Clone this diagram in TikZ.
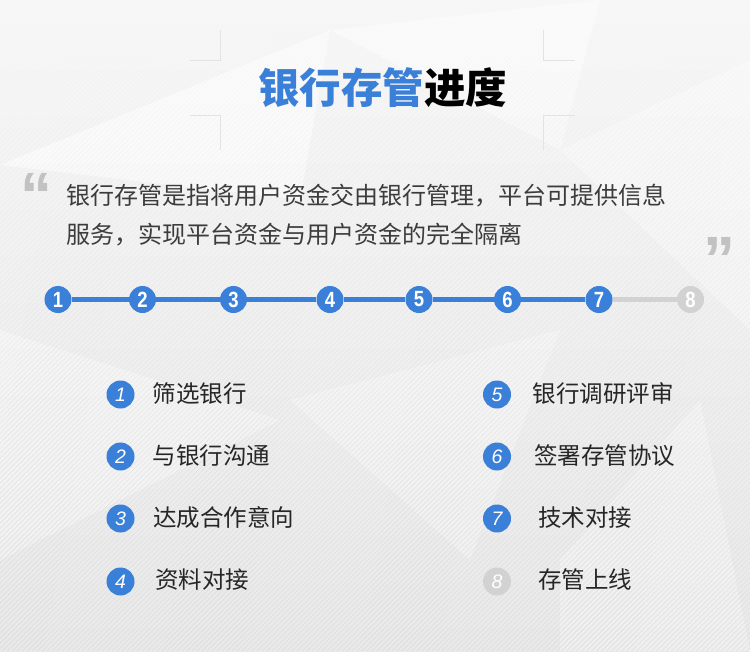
\documentclass[tikz,border=0pt]{standalone}
\usepackage{fontspec}
\usetikzlibrary{fadings}
\newfontfamily\cjk{Noto Sans CJK SC}
\newfontfamily\arial{Liberation Sans}
\newfontfamily\arialn[FakeStretch=0.84]{Liberation Sans}
\definecolor{mblue}{HTML}{3A80D9}
\definecolor{mgray}{HTML}{D2D2D2}
\definecolor{txt}{HTML}{262626}
\definecolor{qgray}{HTML}{C2C2C2}
\definecolor{bgtop}{HTML}{F7F7F7}
\definecolor{bgbot}{HTML}{E9E9E9}
\definecolor{hatch}{HTML}{D8D8D8}
\definecolor{corner}{HTML}{E3E3E3}
\tikzfading[name=hatchfade, top color=transparent!100, bottom color=transparent!25]
\tikzset{
  pc/.style={circle,fill=mblue,minimum size=27pt,inner sep=0pt,text=white,font=\arialn\bfseries\fontsize{22}{22}\selectfont},
  pcoff/.style={pc,fill=mgray},
  lc/.style={circle,fill=mblue,minimum size=28pt,inner sep=0pt,text=white,font=\arial\itshape\fontsize{19.5}{19.5}\selectfont},
  lcoff/.style={lc,fill=mgray},
  bline/.style={draw=mblue,line width=4.5pt},
  gline/.style={draw=mgray,line width=4.5pt},
  item/.style={anchor=west,inner sep=0pt,text=txt,font=\cjk\fontsize{23.5}{23.5}\selectfont},
  para/.style={anchor=west,inner sep=0pt,text=txt!90,font=\cjk\fontsize{24}{24}\selectfont},
  quote/.style={inner sep=0pt,text=qgray,font=\arial\bfseries\fontsize{64}{64}\selectfont},
  cornerline/.style={draw=corner,line width=1pt}
}
\begin{document}
\begin{tikzpicture}[x=1pt,y=-1pt]
\useasboundingbox (0,0) rectangle (750,651);
% background
\shade[top color=bgtop,bottom color=bgbot] (0,0) rectangle (750,651);
\fill[white,opacity=0.55] (0,165) -- (330,30) -- (300,200) -- cycle;
\fill[white,opacity=0.45] (330,30) -- (600,0) -- (560,150) -- cycle;
\fill[white,opacity=0.35] (560,150) -- (750,60) -- (750,330) -- cycle;
\fill[white,opacity=0.35] (0,330) -- (280,420) -- (0,560) -- cycle;
\fill[white,opacity=0.3] (290,400) -- (560,330) -- (470,560) -- cycle;
\fill[white,opacity=0.3] (560,560) -- (700,400) -- (750,651) -- (560,651) -- cycle;
\begin{scope}
\clip (0,0) rectangle (750,651);
\draw[hatch,line width=0.6pt,path fading=hatchfade,fit fading=true]
  \foreach \i in {-660,-655,...,760} { (\i,651) -- (\i+651,0) };
\end{scope}
% corner marks
\draw[cornerline] (190,60) -- (220,60) -- (220,30);
\draw[cornerline] (190,115) -- (220,115) -- (220,150);
\draw[cornerline] (575,60) -- (543,60) -- (543,30);
\draw[cornerline] (575,115) -- (543,115) -- (543,150);
% title
\node[inner sep=0pt,font=\cjk\bfseries\fontsize{41.5}{41.5}\selectfont,text=black] (title) at (382.5,88) {\textcolor{mblue}{银行存管}进度};
% quotes
\node[quote,anchor=north west] (q1) at (20,173) {“};
\node[quote,anchor=north west] (q2) at (703,237) {”};
% paragraph
\node[para] (l1) at (66,196) {银行存管是指将用户资金交由银行管理，平台可提供信息};
\node[para] (l2) at (66,235) {服务，实现平台资金与用户资金的完全隔离};
% progress bar
\node[pc] (p1) at (58,299.5) {1};
\node[pc] (p2) at (142.5,299.5) {2};
\node[pc] (p3) at (233.5,299.5) {3};
\node[pc] (p4) at (330,299.5) {4};
\node[pc] (p5) at (419,299.5) {5};
\node[pc] (p6) at (507.5,299.5) {6};
\node[pc] (p7) at (599,299.5) {7};
\node[pcoff] (p8) at (690.5,299.5) {8};
\draw[bline] (p1) -- (p2);
\draw[bline] (p2) -- (p3);
\draw[bline] (p3) -- (p4);
\draw[bline] (p4) -- (p5);
\draw[bline] (p5) -- (p6);
\draw[bline] (p6) -- (p7);
\draw[gline] (p7) -- (p8);
% list left
\node[lc] (c1) at (120.5,394.5) {1};
\node[item] (t1) at (152.5,394) {筛选银行};
\node[lc] (c2) at (120.5,456.5) {2};
\node[item] (t2) at (152.5,456) {与银行沟通};
\node[lc] (c3) at (120.5,518.5) {3};
\node[item] (t3) at (153,518) {达成合作意向};
\node[lc] (c4) at (120.5,581.5) {4};
\node[item] (t4) at (155,580) {资料对接};
% list right
\node[lc] (c5) at (497,394.5) {5};
\node[item] (t5) at (532.5,394) {银行调研评审};
\node[lc] (c6) at (497,456.5) {6};
\node[item] (t6) at (534,456) {签署存管协议};
\node[lc] (c7) at (497,518.5) {7};
\node[item] (t7) at (538,518) {技术对接};
\node[lcoff] (c8) at (497,581.5) {8};
\node[item] (t8) at (538,580) {存管上线};
\end{tikzpicture}
\end{document}
